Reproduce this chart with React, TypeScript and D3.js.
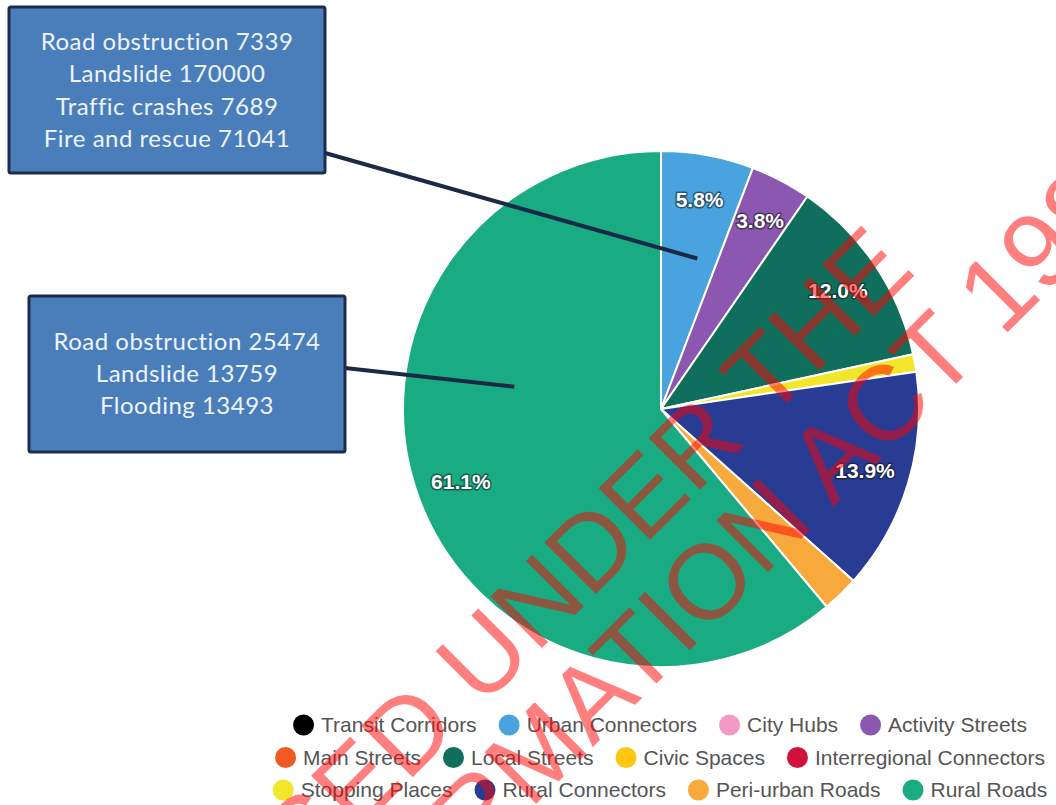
import React, { useEffect, useRef } from "react";
import * as d3 from "d3";

// ---- data ----
const categories = [
  "Transit Corridors", "Urban Connectors", "City Hubs", "Activity Streets",
  "Main Streets", "Local Streets", "Civic Spaces", "Interregional Connectors",
  "Stopping Places", "Rural Connectors", "Peri-urban Roads", "Rural Roads",
];
const shares = [0, 5.8, 0, 3.8, 0, 12.0, 0, 0, 1.1, 13.9, 2.3, 61.1];
const colors = [
  "#000000", "#48a3df", "#f29ac4", "#8b57b0",
  "#f15a24", "#0f6e5c", "#fdc710", "#d1123c",
  "#f1e62a", "#283c94", "#f7a93c", "#19ac82",
];
const legendRows = [
  ["Transit Corridors", "Urban Connectors", "City Hubs", "Activity Streets"],
  ["Main Streets", "Local Streets", "Civic Spaces", "Interregional Connectors"],
  ["Stopping Places", "Rural Connectors", "Peri-urban Roads", "Rural Roads"],
];
const calloutTop = ["Road obstruction 7339", "Landslide 170000", "Traffic crashes 7689", "Fire and rescue 71041"];
const calloutLeft = ["Road obstruction 25474", "Landslide 13759", "Flooding 13493"];
const watermarkLines = ["RELEASED UNDER THE", "OFFICIAL INFORMATION ACT 1982"];

export default function App() {
  const ref = useRef<SVGSVGElement | null>(null);

  useEffect(() => {
    const svg = d3.select(ref.current);
    svg.selectAll("*").remove();

    const W = 1056, H = 805;
    const cx = 661, cy = 409, R = 258;

    svg.append("rect").attr("width", W).attr("height", H).attr("fill", "#fff");

    const data = categories.map((c, i) => ({ name: c, value: shares[i], color: colors[i] }));
    const pie = d3.pie<any>().sort(null).value((d: any) => d.value);
    const arcs = pie(data).filter((a) => a.data.value > 0);
    const arc = d3.arc<any>().innerRadius(0).outerRadius(R);
    const labelArc = d3.arc<any>().innerRadius(213).outerRadius(213);

    const g = svg.append("g").attr("transform", `translate(${cx},${cy})`);
    g.selectAll("path.slice")
      .data(arcs)
      .join("path")
      .attr("class", "slice")
      .attr("d", arc as any)
      .attr("fill", (d: any) => d.data.color)
      .attr("stroke", "#fff")
      .attr("stroke-width", 2)
      .attr("stroke-linejoin", "round");

    g.selectAll("text.lbl")
      .data(arcs.filter((a: any) => a.data.value >= 3))
      .join("text")
      .attr("class", "lbl")
      .attr("transform", (d: any) => `translate(${labelArc.centroid(d)})`)
      .attr("text-anchor", "middle")
      .attr("dy", "0.36em")
      .attr("font-family", "'Liberation Sans', Arial, sans-serif")
      .attr("font-weight", "bold")
      .attr("font-size", 21)
      .attr("fill", "#fff")
      .attr("stroke", "rgba(20,20,20,0.55)")
      .attr("stroke-width", 3)
      .attr("stroke-linejoin", "round")
      .attr("paint-order", "stroke")
      .text((d: any) => d.data.value.toFixed(1) + "%");

    // ---- callouts ----
    const pointAt = (name: string, angleFrac: number, rFrac: number) => {
      const a = arcs.find((x: any) => x.data.name === name)!;
      const ang = a.startAngle + (a.endAngle - a.startAngle) * angleFrac;
      const r = R * rFrac;
      return [cx + r * Math.sin(ang), cy - r * Math.cos(ang)];
    };
    const callouts = [
      { lines: calloutTop, x: 9, y: 7, w: 316, h: 166, lineY: 153, target: pointAt("Urban Connectors", 0.65, 0.6), lh: 32.3, first: 50 },
      { lines: calloutLeft, x: 29, y: 296, w: 316, h: 156, lineY: 368, target: pointAt("Rural Roads", 0.63, 0.575), lh: 32, first: 350 },
    ];
    callouts.forEach((c) => {
      svg.append("line")
        .attr("x1", c.x + c.w).attr("y1", c.lineY)
        .attr("x2", c.target[0]).attr("y2", c.target[1])
        .attr("stroke", "#1a2946").attr("stroke-width", 4);
      svg.append("rect")
        .attr("x", c.x).attr("y", c.y).attr("width", c.w).attr("height", c.h)
        .attr("rx", 2)
        .attr("fill", "#4a7ebb").attr("stroke", "#1c2d4b").attr("stroke-width", 3);
      const t = svg.append("text")
        .attr("text-anchor", "middle")
        .attr("font-family", "Lato, 'Open Sans', sans-serif")
        .attr("font-size", 24)
        .attr("letter-spacing", 0.5)
        .attr("fill", "#eef3fa");
      c.lines.forEach((ln, i) => {
        t.append("tspan").attr("x", c.x + c.w / 2).attr("y", c.first + i * c.lh).text(ln);
      });
    });

    // ---- legend ----
    const legendCx = 660;
    const rowY = [725, 757.5, 790];
    const rad = 10.5, gapText = 7, gapItem = 22;
    legendRows.forEach((row, ri) => {
      const rg = svg.append("g");
      const items = row.map((name) => {
        const ig = rg.append("g");
        const idx = categories.indexOf(name);
        ig.append("circle").attr("r", rad).attr("cx", rad).attr("cy", 0).attr("fill", colors[idx]);
        const tx = ig.append("text")
          .attr("x", rad * 2 + gapText)
          .attr("dy", "0.35em")
          .attr("font-family", "'Liberation Sans', Arial, sans-serif")
          .attr("font-size", 21)
          .attr("fill", "#555")
          .text(name);
        const w = (tx.node() as SVGTextElement).getComputedTextLength();
        return { ig, width: rad * 2 + gapText + w };
      });
      const total = d3.sum(items, (d) => d.width) + gapItem * (items.length - 1);
      let x = legendCx - total / 2;
      items.forEach((it) => {
        it.ig.attr("transform", `translate(${x},${rowY[ri]})`);
        x += it.width + gapItem;
      });
    });

    // ---- watermark ----
    const wm = [
      { text: watermarkLines[0], idx: 13, px: 721, py: 469 },
      { text: watermarkLines[1], idx: 23, px: 959, py: 381 },
    ];
    wm.forEach((m) => {
      const wg = svg.append("g").attr("transform", `translate(${m.px},${m.py}) rotate(-45)`);
      const t = wg.append("text")
        .attr("font-family", "'Liberation Sans', Arial, sans-serif")
        .attr("font-size", 106)
        .attr("fill", "#ff0000")
        .attr("fill-opacity", 0.5)
        .text(m.text);
      const node = t.node() as SVGTextElement;
      const start = node.getSubStringLength(0, m.idx);
      const cw = node.getSubStringLength(m.idx, 1);
      t.attr("x", -(start + cw / 2));
    });
  }, []);

  return (
    <svg
      ref={ref}
      width={1056}
      height={805}
      style={{ position: "absolute", left: 0, top: 0, display: "block" }}
    />
  );
}
